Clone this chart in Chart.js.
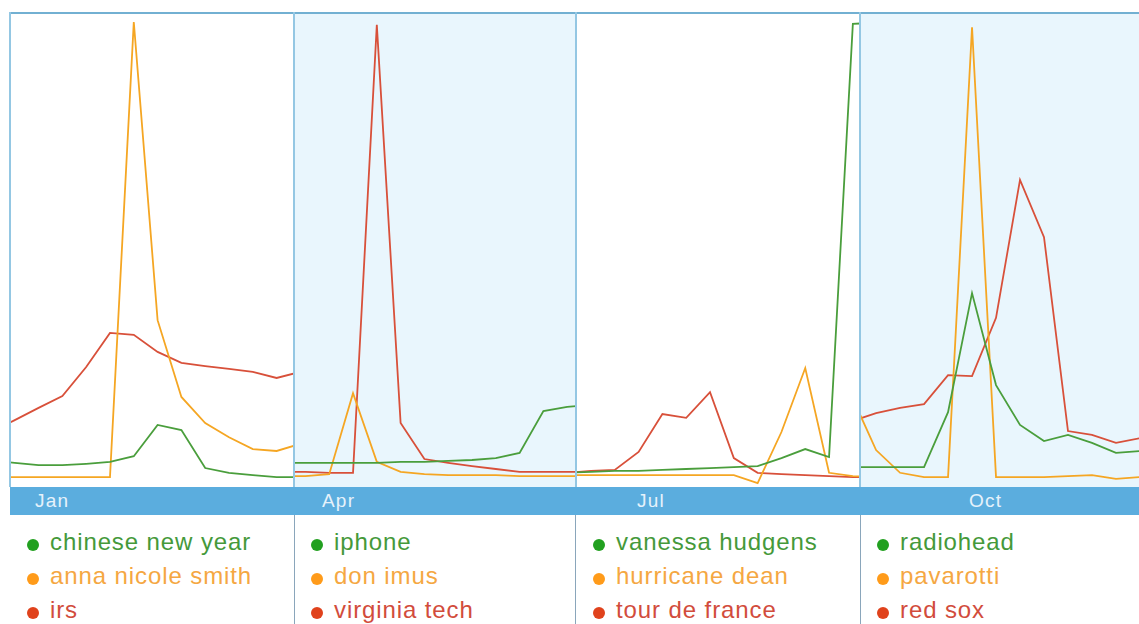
<!DOCTYPE html>
<html lang="en">
<head>
  <meta charset="UTF-8" />
  <title>2007 - fastest rising searches by quarter</title>
  <script src="https://cdn.jsdelivr.net/npm/chart.js"></script>
  <style>
    body { margin: 0; background: #fff; font-family: "Liberation Sans", Arial, sans-serif; }
    #wrap { position: relative; width: 1139px; height: 624px; overflow: hidden; }
    .panel { position: absolute; top: 13px; height: 474px; }
    .panel canvas { position: absolute; left: 0; top: 0; }
    .frameTop { position: absolute; left: 10px; top: 12px; width: 1129px; height: 2px; background: #72b0d2; }
    .vline { position: absolute; top: 12px; height: 475px; width: 2px; background: #94c7e3; }
    .lline { position: absolute; top: 515px; height: 109px; width: 1px; background: #8aa6bb; }
    #bar { position: absolute; left: 10px; top: 487px; width: 1129px; height: 28px; background: #5badde; }
    .month { position: absolute; top: 0; line-height: 28px; font-size: 19px; letter-spacing: 1.2px; color: #e6f2fb; }
    .legend { position: absolute; top: 525px; font-size: 24px; letter-spacing: 0.9px; }
    .legend div { height: 34px; line-height: 34px; white-space: nowrap; }
    .dot { display: inline-block; width: 12px; height: 12px; border-radius: 50%; margin-right: 11px; vertical-align: -1px; }
  </style>
</head>
<body>
  <div id="wrap">
    <div id="bar"></div>
  </div>

  <script>
    // one panel per quarter, weekly points (week -1 is the tail of the previous week)
    const months = ['Jan', 'Apr', 'Jul', 'Oct'];
    const weeks = [-1, 0, 1, 2, 3, 4, 5, 6, 7, 8, 9, 10, 11, 12];

    const q1Terms = ['chinese new year', 'anna nicole smith', 'irs'];
    const chineseNewYear = [5.5, 5.1, 4.6, 4.6, 4.9, 5.3, 6.5, 13.1, 12.0, 4.0, 3.0, 2.5, 2.1, 2.1];
    const annaNicoleSmith = [2.1, 2.1, 2.1, 2.1, 2.1, 2.1, 98.1, 35.2, 19.0, 13.5, 10.5, 8.0, 7.6, 9.1];
    const irs = [11.6, 14.1, 16.7, 19.2, 25.3, 32.5, 32.1, 28.5, 26.2, 25.5, 24.9, 24.3, 23.0, 24.3];

    const q2Terms = ['iphone', 'don imus', 'virginia tech'];
    const iphone = [5.1, 5.1, 5.1, 5.1, 5.1, 5.3, 5.3, 5.5, 5.7, 6.1, 7.2, 16.0, 16.9, 17.3];
    const donImus = [2.3, 2.3, 2.7, 19.8, 5.3, 3.2, 2.7, 2.5, 2.5, 2.5, 2.3, 2.3, 2.3, 2.3];
    const virginiaTech = [3.2, 3.2, 3.0, 3.0, 97.5, 13.5, 5.9, 5.1, 4.4, 3.8, 3.2, 3.2, 3.2, 3.2];

    const q3Terms = ['vanessa hudgens', 'hurricane dean', 'tour de france'];
    const vanessaHudgens = [3.0, 3.2, 3.4, 3.4, 3.6, 3.8, 4.0, 4.2, 4.4, 6.1, 8.0, 6.3, 97.7, 98.0];
    const hurricaneDean = [2.5, 2.5, 2.5, 2.5, 2.5, 2.5, 2.5, 2.5, 0.8, 11.6, 25.1, 3.0, 2.3, 2.1];
    const tourDeFrance = [3.0, 3.4, 3.6, 7.4, 15.4, 14.6, 20.0, 6.1, 3.0, 2.7, 2.5, 2.3, 2.1, 2.1];

    const q4Terms = ['radiohead', 'pavarotti', 'red sox'];
    const radiohead = [4.2, 4.2, 4.2, 4.2, 15.8, 40.9, 21.5, 13.1, 9.7, 11.0, 9.3, 7.2, 7.6];
    const pavarotti = [19.0, 7.8, 3.0, 2.1, 2.1, 97.0, 2.1, 2.1, 2.1, 2.3, 2.5, 1.7, 2.1];
    const redSox = [13.9, 15.6, 16.7, 17.5, 23.6, 23.4, 35.7, 64.8, 52.7, 11.8, 11.0, 9.3, 10.3];

    const lineColors = ['#4a9e3c', '#f5a623', '#d8503a'];
    const dotColors = ['#22a020', '#ff9b1a', '#e0421c'];
    const textColors = ['#45993a', '#f5a742', '#d24c3c'];

    // layout of the four panels (pixels) and the visible week range in each
    const panels = [
      { left: 10, width: 284, bg: '#ffffff', min: -0.2, max: 11.73, terms: q1Terms, series: [chineseNewYear, annaNicoleSmith, irs], label: 35 },
      { left: 294, width: 282, bg: '#e9f6fd', min: -0.48, max: 11.37, terms: q2Terms, series: [iphone, donImus, virginiaTech], label: 322 },
      { left: 576, width: 284, bg: '#ffffff', min: -0.63, max: 11.3, terms: q3Terms, series: [vanessaHudgens, hurricaneDean, tourDeFrance], label: 637 },
      { left: 860, width: 279, bg: '#e9f6fd', min: -0.67, max: 10.96, terms: q4Terms, series: [radiohead, pavarotti, redSox], label: 969 }
    ];

    const wrap = document.getElementById('wrap');
    const bar = document.getElementById('bar');

    panels.forEach((p, i) => {
      const div = document.createElement('div');
      div.className = 'panel';
      div.style.left = p.left + 'px';
      div.style.width = p.width + 'px';
      div.style.background = p.bg;
      const canvas = document.createElement('canvas');
      canvas.width = p.width;
      canvas.height = 474;
      div.appendChild(canvas);
      wrap.insertBefore(div, bar);

      new Chart(canvas.getContext('2d'), {
        type: 'line',
        data: {
          // red drawn first so green / orange sit on top like the original
          datasets: p.series.map((vals, j) => ({
            label: p.terms[j],
            data: vals.map((v, k) => ({ x: weeks[k], y: v })),
            borderColor: lineColors[j],
            borderWidth: 1.8,
            pointRadius: 0,
            tension: 0,
            clip: 0,
            order: j === 2 ? 1 : 0
          }))
        },
        options: {
          responsive: false,
          animation: false,
          layout: { padding: 0 },
          plugins: { legend: { display: false }, tooltip: { enabled: false } },
          scales: {
            x: { type: 'linear', min: p.min, max: p.max, display: false },
            y: { min: 0, max: 100, display: false }
          }
        }
      });

      // month label on the blue bar
      const m = document.createElement('div');
      m.className = 'month';
      m.style.left = (p.label - 10) + 'px';
      m.textContent = months[i];
      bar.appendChild(m);

      // legend block under the panel
      const lg = document.createElement('div');
      lg.className = 'legend';
      lg.style.left = (p.left + 17) + 'px';
      p.terms.forEach((t, j) => {
        const row = document.createElement('div');
        row.style.color = textColors[j];
        row.innerHTML = '<span class="dot" style="background:' + dotColors[j] + '"></span>' + t;
        lg.appendChild(row);
      });
      wrap.appendChild(lg);
    });

    // frame lines
    const frameTop = document.createElement('div');
    frameTop.className = 'frameTop';
    wrap.appendChild(frameTop);
    [9, 293, 575, 859].forEach(x => {
      const v = document.createElement('div');
      v.className = 'vline';
      v.style.left = x + 'px';
      wrap.appendChild(v);
    });
    [294, 575, 860].forEach(x => {
      const l = document.createElement('div');
      l.className = 'lline';
      l.style.left = x + 'px';
      wrap.appendChild(l);
    });
  </script>
</body>
</html>
